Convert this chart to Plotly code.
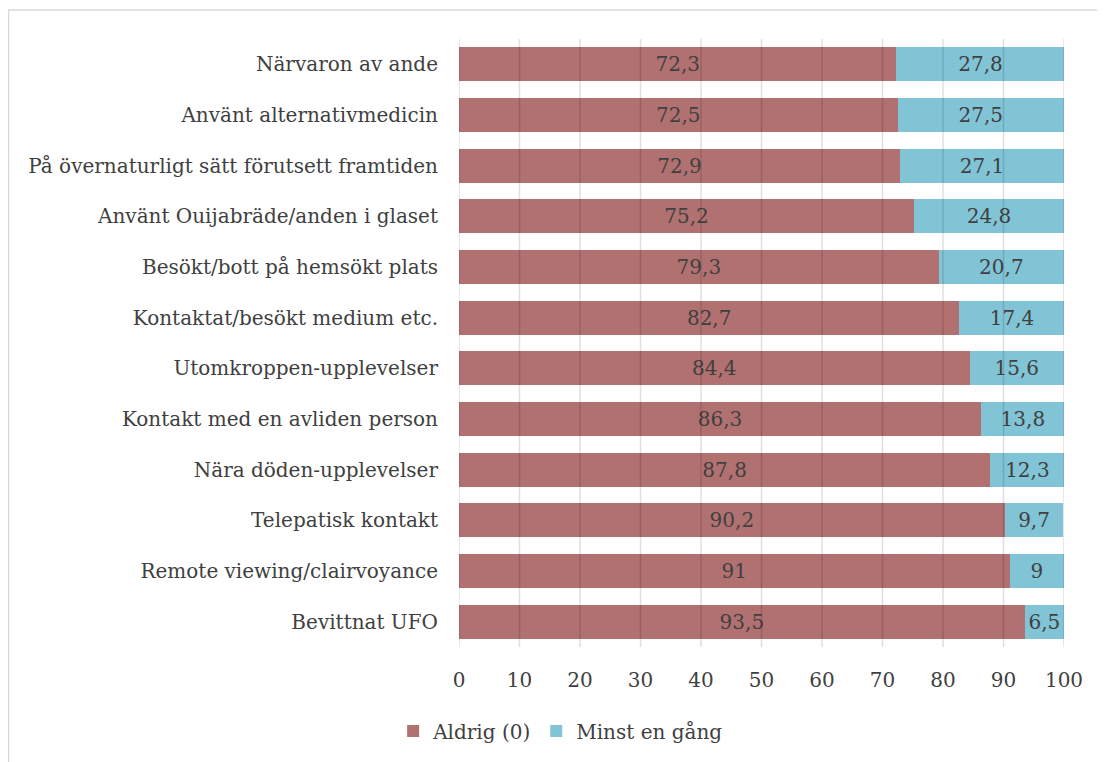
import plotly.graph_objects as go

categories = [
    "Närvaron av ande",
    "Använt alternativmedicin",
    "På övernaturligt sätt förutsett framtiden",
    "Använt Ouijabräde/anden i glaset",
    "Besökt/bott på hemsökt plats",
    "Kontaktat/besökt medium etc.",
    "Utomkroppen-upplevelser",
    "Kontakt med en avliden person",
    "Nära döden-upplevelser",
    "Telepatisk kontakt",
    "Remote viewing/clairvoyance",
    "Bevittnat UFO",
]
aldrig = [72.3, 72.5, 72.9, 75.2, 79.3, 82.7, 84.4, 86.3, 87.8, 90.2, 91, 93.5]
minst = [27.8, 27.5, 27.1, 24.8, 20.7, 17.4, 15.6, 13.8, 12.3, 9.7, 9, 6.5]
x_ticks = [0, 10, 20, 30, 40, 50, 60, 70, 80, 90, 100]

def fmt(v):
    return ("%g" % v).replace(".", ",")

FONT = "DejaVu Serif"
TXT = "#404040"
FS = 20

fig = go.Figure()
fig.add_trace(go.Bar(
    y=categories, x=aldrig, orientation="h", name="Aldrig (0)",
    marker=dict(color="#b07170", line=dict(width=0)),
    text=[fmt(v) for v in aldrig], textposition="inside", insidetextanchor="middle",
    textfont=dict(family=FONT, size=FS, color=TXT), textangle=0,
))
fig.add_trace(go.Bar(
    y=categories, x=minst, orientation="h", name="Minst en gång",
    marker=dict(color="#80c4d6", line=dict(width=0)),
    text=[fmt(v) for v in minst], textposition="inside", insidetextanchor="middle",
    textfont=dict(family=FONT, size=FS, color=TXT), textangle=0,
))

for t in x_ticks:
    fig.add_shape(type="line", xref="x", yref="paper", x0=t, x1=t, y0=0, y1=1,
                  line=dict(color="rgba(0,0,0,0.13)", width=1.5), layer="above")

fig.add_shape(type="rect", xref="paper", yref="paper", x0=-0.7446, x1=1.08, y0=-0.21, y1=1.0477,
              line=dict(color="#d9d9d9", width=1.5), layer="below")

fig.update_layout(
    width=1097, height=754,
    barmode="stack", bargap=0.33,
    plot_bgcolor="white", paper_bgcolor="white",
    margin=dict(l=451, r=41, t=31, b=115),
    font=dict(family=FONT, size=FS, color=TXT),
    uniformtext=dict(mode="show", minsize=10),
    xaxis=dict(range=[0, 100], tickvals=x_ticks, showgrid=False, zeroline=False,
               tickfont=dict(family=FONT, size=FS, color=TXT), ticks="outside", ticklen=15,
               tickcolor="rgba(0,0,0,0)"),
    yaxis=dict(autorange="reversed", showgrid=False, ticks="outside", ticklen=16,
               tickcolor="rgba(0,0,0,0)", tickfont=dict(family=FONT, size=FS, color=TXT)),
    legend=dict(orientation="h", x=0.168, xanchor="center", y=-0.138, yanchor="middle",
                font=dict(family=FONT, size=FS, color=TXT), traceorder="normal",
                itemwidth=30),
    showlegend=True,
)

fig.write_html("out.html")
